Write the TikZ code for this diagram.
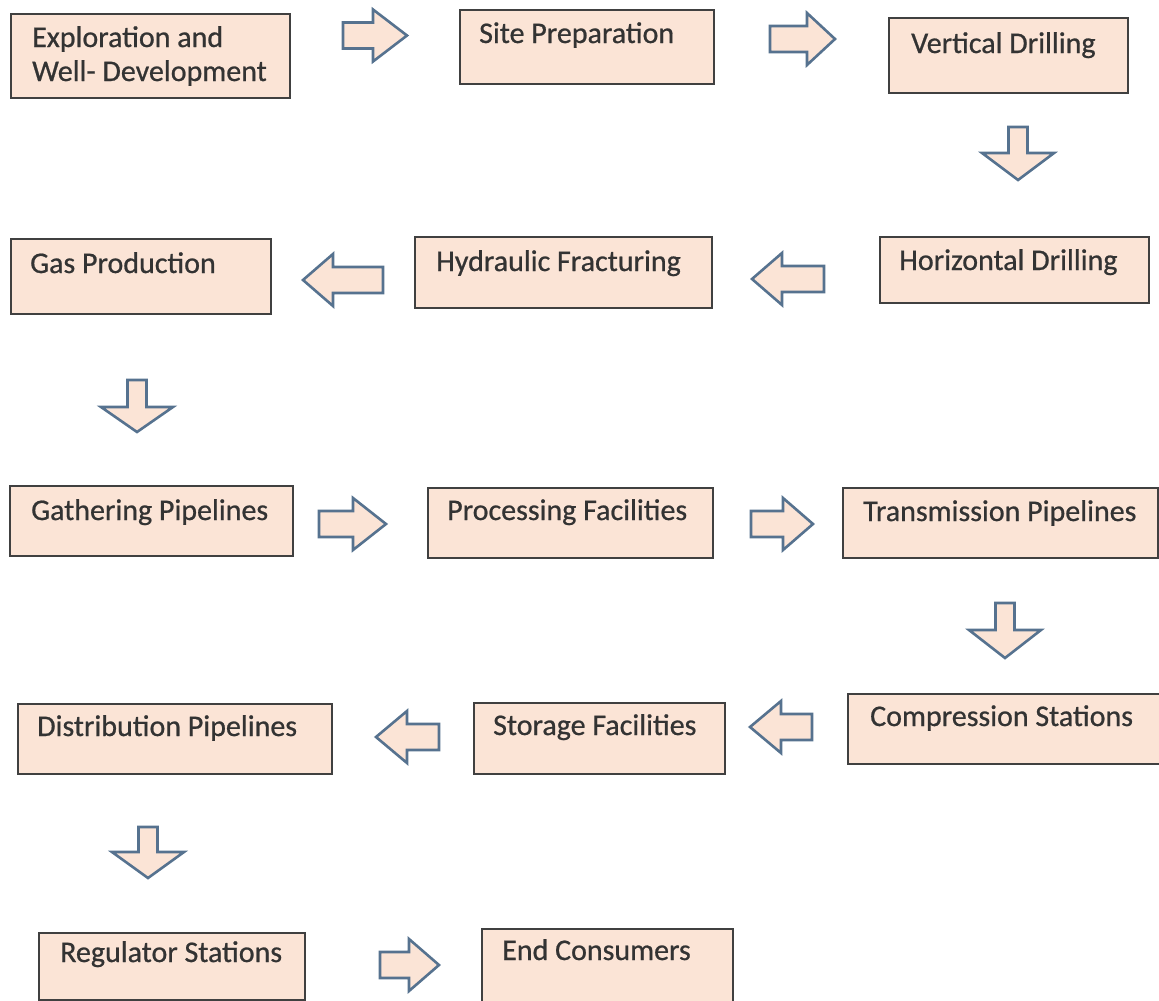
\documentclass[tikz,border=0pt]{standalone}
\usepackage{fontspec}
\setmainfont{Carlito}[FakeBold=0.7]
\definecolor{boxfill}{HTML}{FBE4D6}
\definecolor{boxline}{HTML}{404040}
\definecolor{arrline}{HTML}{56728F}
\definecolor{txt}{HTML}{333333}
\newcommand\harr[4]{% tail x, head base x, tip x, centre y
  \draw[blockarrow] (#1,#4-13) -- (#2,#4-13) -- (#2,#4-26) -- (#3,#4) -- (#2,#4+26) -- (#2,#4+13) -- (#1,#4+13) -- cycle;}
\newcommand\varr[4]{% centre x, top y, head base y, tip y
  \draw[blockarrow] (#1-9.5,#2) -- (#1+9.5,#2) -- (#1+9.5,#3) -- (#1+36,#3) -- (#1,#4) -- (#1-36,#3) -- (#1-9.5,#3) -- cycle;}
\begin{document}
\begin{tikzpicture}[x=1pt,y=-1pt,
  stepbox/.style={draw=boxline, fill=boxfill, line width=1.8pt, inner sep=0pt, anchor=north west},
  lbl/.style={anchor=base west, inner sep=0pt, text=txt, font=\fontsize{30}{34}\selectfont},
  blockarrow/.style={draw=arrline, fill=boxfill, line width=2.6pt, line join=miter}]
\useasboundingbox[fill=white] (0,0) rectangle (1159,1001);

% row 1
\node[stepbox, minimum width=279pt, minimum height=84pt] (b1) at (10,13) {};
\node[lbl] (t1a) at (32,47) {Exploration and};
\node[lbl] (t1b) at (32,81) {Well- Development};
\node[stepbox, minimum width=254pt, minimum height=74pt] (b2) at (459,9) {};
\node[lbl] (t2) at (479,43) {Site Preparation};
\node[stepbox, minimum width=239pt, minimum height=75pt] (b3) at (888,17) {};
\node[lbl] (t3) at (911,53) {Vertical Drilling};

% row 2
\node[stepbox, minimum width=260pt, minimum height=75pt] (b4) at (10,238) {};
\node[lbl] (t4) at (30,273) {Gas Production};
\node[stepbox, minimum width=297pt, minimum height=71pt] (b5) at (414,236) {};
\node[lbl] (t5) at (436,271) {Hydraulic Fracturing};
\node[stepbox, minimum width=269pt, minimum height=66pt] (b6) at (879,236) {};
\node[lbl] (t6) at (899,270) {Horizontal Drilling};

% row 3
\node[stepbox, minimum width=283pt, minimum height=70pt] (b7) at (9,485) {};
\node[lbl] (t7) at (31,520) {Gathering Pipelines};
\node[stepbox, minimum width=285pt, minimum height=70pt] (b8) at (427,487) {};
\node[lbl] (t8) at (447,520) {Processing Facilities};
\node[stepbox, minimum width=315pt, minimum height=70pt] (b9) at (842,487) {};
\node[lbl] (t9) at (863,521) {Transmission Pipelines};

% row 4
\node[stepbox, minimum width=314pt, minimum height=70pt] (b10) at (17,703) {};
\node[lbl] (t10) at (37,736) {Distribution Pipelines};
\node[stepbox, minimum width=251pt, minimum height=71pt] (b11) at (473,702) {};
\node[lbl] (t11) at (493,735) {Storage Facilities};
\node[stepbox, minimum width=315pt, minimum height=70pt] (b12) at (847,693) {};
\node[lbl] (t12) at (870,726) {Compression Stations};

% row 5
\node[stepbox, minimum width=266pt, minimum height=67pt] (b13) at (38,932) {};
\node[lbl] (t13) at (60,962) {Regulator Stations};
\node[stepbox, minimum width=251pt, minimum height=76pt] (b14) at (481,928) {};
\node[lbl] (t14) at (502,960) {End Consumers};

% block arrows
\harr{343}{373}{407}{35.5}
\harr{770}{807}{835}{39}
\varr{1018}{127}{153}{180}
\harr{824}{782}{752}{279}
\harr{383}{333}{303}{280}
\varr{137}{380}{407}{432}
\harr{319}{353}{386}{524}
\harr{751}{783}{813}{524}
\varr{1005}{603}{630}{658}
\harr{812}{781}{750}{727}
\harr{439}{407}{376}{737}
\varr{148}{827}{852}{878}
\harr{380}{409}{439}{965}
\end{tikzpicture}
\end{document}
